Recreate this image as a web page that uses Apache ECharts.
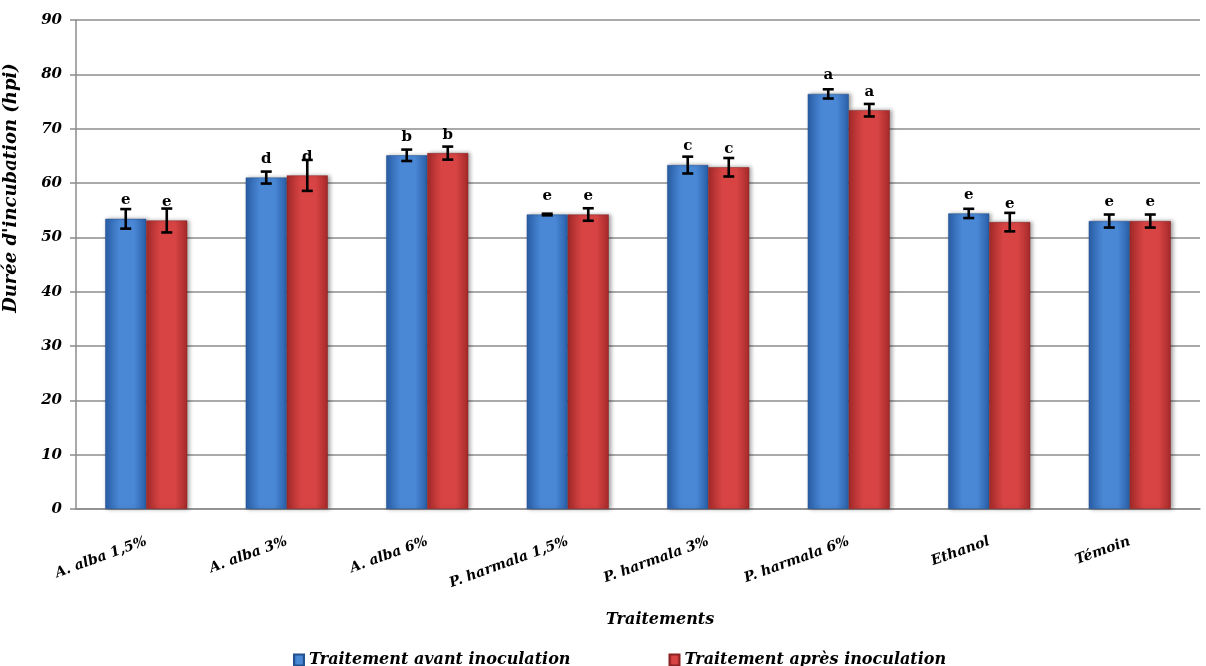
<!DOCTYPE html>
<html>
<head>
<meta charset="utf-8">
<script src="https://cdn.jsdelivr.net/npm/echarts@6/dist/echarts.min.js"></script>
<style>html,body{margin:0;padding:0;background:#fff;}#c{width:1206px;height:666px;}</style>
</head>
<body>
<div id="c"></div>
<script>
const categories = ['A. alba 1,5%', 'A. alba 3%', 'A. alba 6%', 'P. harmala 1,5%', 'P. harmala 3%', 'P. harmala 6%', 'Ethanol', 'Témoin'];
const avantValues = [53.4, 61.0, 65.1, 54.2, 63.3, 76.4, 54.4, 53.0];
const avantErrors = [1.8, 1.1, 1.05, 0.15, 1.55, 0.85, 0.85, 1.2];
const avantLetters = ['e', 'd', 'b', 'e', 'c', 'a', 'e', 'e'];
const apresValues = [53.1, 61.4, 65.5, 54.2, 62.9, 73.4, 52.8, 53.0];
const apresErrors = [2.2, 2.85, 1.2, 1.15, 1.7, 1.15, 1.7, 1.2];
const apresLetters = ['e', 'd', 'b', 'e', 'c', 'a', 'e', 'e'];
const yTicks = [0, 10, 20, 30, 40, 50, 60, 70, 80, 90];
const seriesNames = ['Traitement avant inoculation', 'Traitement après inoculation'];

const FONT = 'DejaVu Serif';
const GAP = 0.416;

function grad(dark, light) {
  return new echarts.graphic.LinearGradient(0, 0, 1, 0, [
    {offset: 0, color: dark},
    {offset: 0.35, color: light},
    {offset: 0.7, color: light},
    {offset: 1, color: dark}
  ]);
}

function errSeries(values, errors, side) {
  return {
    type: 'custom',
    z: 10,
    silent: true,
    data: values.map((v, i) => [i, v, errors[i]]),
    renderItem: function (params, api) {
      const cat = api.value(0), v = api.value(1), e = api.value(2);
      const catW = api.size([1, 0])[0];
      const bw = catW * (1 - GAP) / 2;
      const c = api.coord([cat, v]);
      const x = c[0] + side * bw / 2;
      const yt = api.coord([cat, v + e])[1];
      const yb = api.coord([cat, v - e])[1];
      const cap = 5.5;
      const st = {stroke: '#000', lineWidth: 2.6};
      return {
        type: 'group',
        children: [
          {type: 'line', shape: {x1: x, y1: yt, x2: x, y2: yb}, style: st},
          {type: 'line', shape: {x1: x - cap, y1: yt, x2: x + cap, y2: yt}, style: st},
          {type: 'line', shape: {x1: x - cap, y1: yb, x2: x + cap, y2: yb}, style: st}
        ]
      };
    }
  };
}

const chart = echarts.init(document.getElementById('c'), null, {renderer: 'canvas'});
chart.setOption({
  backgroundColor: '#fff',
  animation: false,
  grid: {left: 76, right: 6, top: 20, bottom: 157},
  legend: {
    data: seriesNames,
    icon: 'rect',
    left: 288, top: 647,
    itemWidth: 10, itemHeight: 11, itemGap: 98,
    textStyle: {fontFamily: FONT, fontStyle: 'italic', fontWeight: 'bold', fontSize: 16, color: '#000'}
  },
  xAxis: {
    type: 'category',
    data: categories,
    axisLine: {lineStyle: {color: '#8c8c8c', width: 1.5}},
    axisTick: {lineStyle: {color: '#8c8c8c', width: 1.5}, length: 5},
    axisLabel: {rotate: 20, margin: 32, fontFamily: FONT, fontStyle: 'italic', fontWeight: 'bold', fontSize: 14, color: '#000'}
  },
  yAxis: {
    type: 'value', min: 0, max: 90, interval: 10,
    axisLine: {show: true, lineStyle: {color: '#8c8c8c', width: 1.5}},
    axisTick: {show: true, lineStyle: {color: '#8c8c8c', width: 1.5}, length: 6},
    axisLabel: {margin: 14, fontFamily: FONT, fontStyle: 'italic', fontWeight: 'bold', fontSize: 15, color: '#000',
      formatter: v => yTicks.includes(v) ? String(v) : ''},
    splitLine: {lineStyle: {color: '#8c8c8c', width: 1.5}}
  },
  graphic: [
    {type: 'text', x: 11, y: 188, rotation: Math.PI / 2,
     style: {text: "Durée d'incubation (hpi)", fontFamily: FONT, fontStyle: 'italic', fontWeight: 'bold', fontSize: 18, fill: '#000', align: 'center', verticalAlign: 'middle'}},
    {type: 'text', x: 660, y: 620,
     style: {text: 'Traitements', fontFamily: FONT, fontStyle: 'italic', fontWeight: 'bold', fontSize: 16, fill: '#000', align: 'center', verticalAlign: 'middle'}}
  ],
  series: [
    {
      name: seriesNames[0], type: 'bar', data: avantValues,
      barGap: '0%', barCategoryGap: (GAP * 100) + '%',
      itemStyle: {color: grad('#2a5fa8', '#4a88d6'), borderColor: '#23508f', borderWidth: 0.5,
        shadowColor: 'rgba(0,0,0,0.35)', shadowBlur: 4, shadowOffsetX: 2},
      label: {show: true, position: 'top', distance: 11, formatter: p => avantLetters[p.dataIndex],
        fontFamily: FONT, fontWeight: 'bold', fontSize: 15, color: '#000'}
    },
    {
      name: seriesNames[1], type: 'bar', data: apresValues,
      itemStyle: {color: grad('#a52a2a', '#d84444'), borderColor: '#8a2222', borderWidth: 0.5,
        shadowColor: 'rgba(0,0,0,0.35)', shadowBlur: 4, shadowOffsetX: 2},
      label: {show: true, position: 'top', distance: 11, formatter: p => apresLetters[p.dataIndex],
        fontFamily: FONT, fontWeight: 'bold', fontSize: 15, color: '#000'}
    },
    errSeries(avantValues, avantErrors, -1),
    errSeries(apresValues, apresErrors, 1)
  ]
});
</script>
</body>
</html>
